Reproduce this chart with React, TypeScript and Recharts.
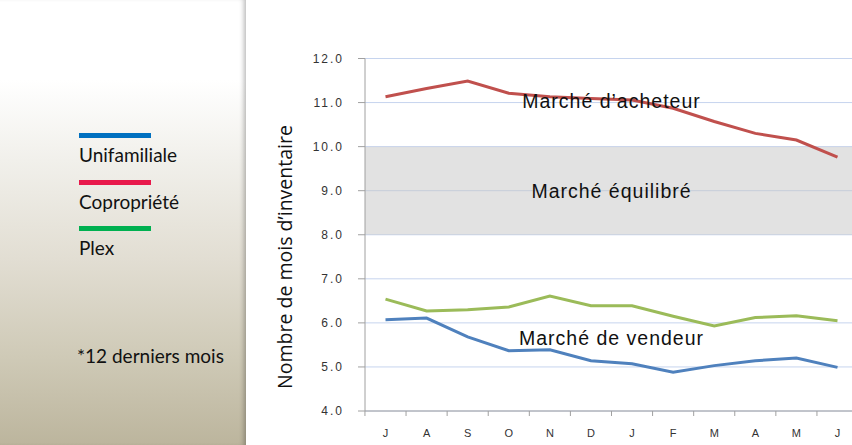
import React from 'react';
import {
  LineChart, Line, XAxis, YAxis, CartesianGrid, ReferenceArea,
} from 'recharts';

const months = ['Juil', 'Août', 'Sep', 'Oct', 'Nov', 'Déc', 'Janv', 'Fév', 'Mars', 'Avr', 'Mai', 'Juin'];
const monthLetters = ['J', 'A', 'S', 'O', 'N', 'D', 'J', 'F', 'M', 'A', 'M', 'J'];

const unifamiliale = [6.07, 6.11, 5.68, 5.37, 5.39, 5.14, 5.07, 4.88, 5.03, 5.14, 5.2, 4.99];
const copropriete = [11.13, 11.32, 11.49, 11.21, 11.13, 11.09, 11.06, 10.87, 10.57, 10.3, 10.15, 9.76];
const plex = [6.54, 6.27, 6.3, 6.36, 6.61, 6.39, 6.39, 6.15, 5.93, 6.12, 6.16, 6.05];

const yTicks = [4, 5, 6, 7, 8, 9, 10, 11, 12];

const series = [
  { key: 'unifamiliale', name: 'Unifamiliale', color: '#4f81bd', legendColor: '#0070c0' },
  { key: 'copropriete', name: 'Copropriété', color: '#c0504d', legendColor: '#e8194b' },
  { key: 'plex', name: 'Plex', color: '#9bbb59', legendColor: '#00b050' },
];

const data = months.map((m, i) => ({
  month: m,
  unifamiliale: unifamiliale[i],
  copropriete: copropriete[i],
  plex: plex[i],
}));

const STEP = 41.1;
const AXIS_FONT = '"Liberation Sans", Arial, sans-serif';

const MonthTick = (props: any) => {
  const { x, y, index } = props;
  const last = index === months.length - 1;
  return (
    <g>
      <line x1={x - STEP / 2} y1={y} x2={x - STEP / 2} y2={y + 5} stroke="#a0a0a0" />
      {last && <line x1={x + STEP / 2} y1={y} x2={x + STEP / 2} y2={y + 5} stroke="#a0a0a0" />}
      <text x={x} y={y + 26} textAnchor="middle" fontSize={11} fill="#333" fontFamily={AXIS_FONT}>
        {monthLetters[index]}
      </text>
    </g>
  );
};

const marketLabel = (value: string) => ({
  value,
  position: 'center' as const,
  fontSize: 19.5,
  letterSpacing: 1,
  fill: '#111',
  fontFamily: AXIS_FONT,
});

export default function App() {
  return (
    <div style={{ position: 'absolute', left: 0, top: 0, width: 852, height: 445, overflow: 'hidden', background: '#fff' }}>
      <div
        style={{
          position: 'absolute', left: 0, top: 0, width: 246, height: 445,
          background: 'linear-gradient(to bottom, #ffffff 0%, #ffffff 18%, #f1f0eb 36%, #e2ded3 58%, #cfcab7 80%, #bcb59d 100%)',
          boxShadow: 'inset -5px 0 5px -3px rgba(0,0,0,0.28)',
          fontFamily: 'Lato, "Noto Sans", sans-serif',
          color: '#111',
        }}
      >
        {series.map((s, i) => (
          <div key={s.key} style={{ position: 'absolute', left: 79, top: 133 + i * 46.5 }}>
            <div style={{ width: 72, height: 5, background: s.legendColor }} />
            <div style={{ marginTop: 6, fontSize: 19, lineHeight: '22px' }}>{s.name}</div>
          </div>
        ))}
        <div style={{ position: 'absolute', left: 77, top: 345, fontSize: 19, lineHeight: '22px' }}>
          *12 derniers mois
        </div>
      </div>
      <div style={{ position: 'absolute', left: 0, top: 0 }}>
        <LineChart
          width={870}
          height={445}
          data={data}
          margin={{ top: 58.5, right: 12, left: 305, bottom: 4 }}
        >
          <CartesianGrid horizontal vertical={false} stroke="#c6d4ee" />
          <XAxis xAxisId="full" dataKey="month" hide />
          <ReferenceArea xAxisId="full" x1="Juil" x2="Juin" y1={8} y2={10} fill="#c6c6c6" fillOpacity={0.5} stroke="none" label={marketLabel('Marché équilibré')} />
          <ReferenceArea x1="Déc" x2="Janv" y1={10.94} y2={11.14} fill="none" stroke="none" label={marketLabel('Marché d’acheteur')} />
          <ReferenceArea x1="Déc" x2="Janv" y1={5.56} y2={5.76} fill="none" stroke="none" label={marketLabel('Marché de vendeur')} />
          <XAxis
            dataKey="month"
            height={30}
            stroke="#a0a0a0"
            tickLine={false}
            tickSize={0}
            tickMargin={0}
            interval={0}
            padding={{ left: 20.5, right: 20.5 }}
            tick={<MonthTick />}
          />
          <YAxis
            width={60}
            domain={[4, 12]}
            ticks={yTicks}
            stroke="#a0a0a0"
            tickSize={7}
            tickMargin={14}
            tickFormatter={(v: number) => v.toFixed(1)}
            tick={{ fontSize: 12, fill: '#333', fontFamily: AXIS_FONT, letterSpacing: 2 }}
            label={{
              content: () => (
                <text
                  x={287}
                  y={257}
                  transform="rotate(-90 287 257)"
                  textAnchor="middle"
                  dominantBaseline="middle"
                  fontSize={19.5}
                  fill="#111"
                  fontFamily='"Open Sans", sans-serif'
                >
                  Nombre de mois d’inventaire
                </text>
              ),
            }}
          />
          {series.map((s) => (
            <Line
              key={s.key}
              dataKey={s.key}
              name={s.name}
              stroke={s.color}
              strokeWidth={3}
              dot={false}
              type="linear"
              isAnimationActive={false}
            />
          ))}
        </LineChart>
      </div>
    </div>
  );
}
